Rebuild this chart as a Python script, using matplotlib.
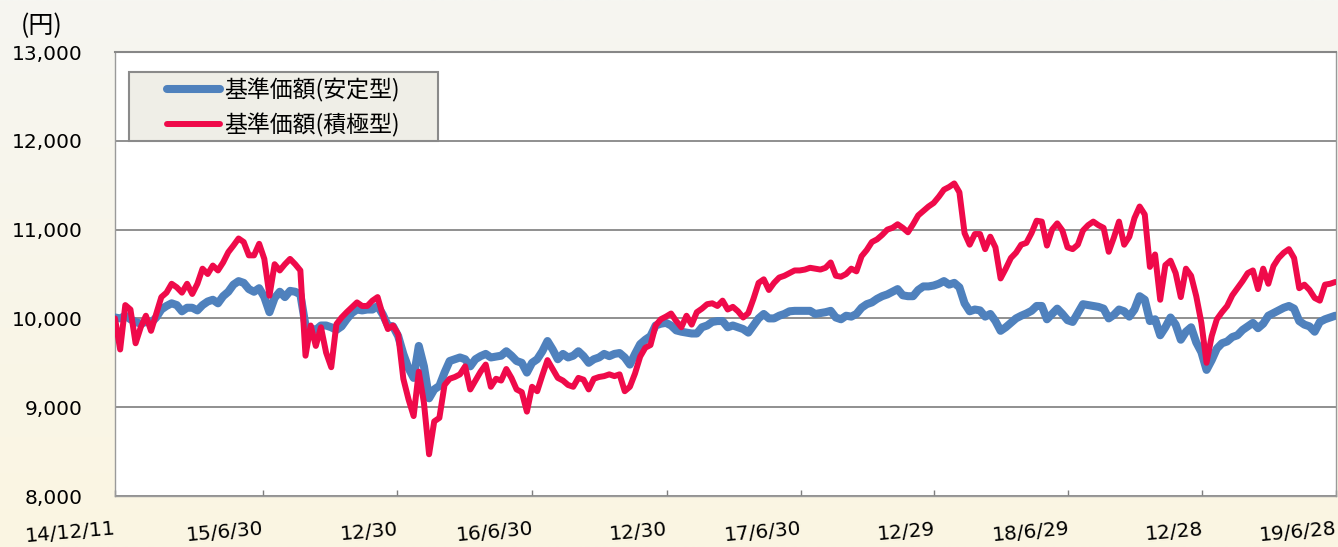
import numpy as np
import pandas as pd
import matplotlib
matplotlib.use('Agg')
import matplotlib.pyplot as plt
from matplotlib.patches import Rectangle

# --- data (one value per week) ---
dates = pd.date_range('2014-12-11', '2019-06-28', freq='7D')

stable = [
    10010, 10000, 10030, 9990, 9960, 9940, 9960, 9950, 10010, 10100,
    10140, 10170, 10150, 10080, 10120, 10120, 10090, 10150, 10190, 10210,
    10170, 10250, 10300, 10380, 10420, 10400, 10330, 10300, 10340, 10240,
    10070, 10230, 10300, 10240, 10310, 10300, 10270, 9920, 9890, 9870,
    9920, 9920, 9900, 9870, 9910, 9990, 10060, 10100, 10090, 10100,
    10100, 10140, 10045, 9920, 9910, 9800, 9600, 9440, 9330, 9690,
    9460, 9100, 9200, 9240, 9390, 9520, 9540, 9560, 9540, 9460,
    9540, 9575, 9600, 9560, 9570, 9580, 9630, 9580, 9520, 9500,
    9390, 9500, 9540, 9630, 9745, 9650, 9540, 9600, 9560, 9580,
    9630, 9575, 9500, 9540, 9560, 9600, 9575, 9600, 9610, 9560,
    9480, 9600, 9710, 9760, 9800, 9920, 9940, 9950, 9920, 9865,
    9850, 9840, 9830, 9830, 9900, 9920, 9960, 9970, 9970, 9900,
    9920, 9900, 9880, 9840, 9920, 10000, 10050, 10000, 10000, 10030,
    10050, 10080, 10085, 10085, 10085, 10085, 10050, 10060, 10070, 10085,
    10010, 9990, 10030, 10020, 10050, 10120, 10160, 10180, 10220, 10250,
    10270, 10300, 10330, 10260, 10250, 10250, 10320, 10360, 10360, 10370,
    10390, 10420, 10380, 10400, 10350, 10170, 10080, 10100, 10090, 10020,
    10050, 9970, 9860, 9900, 9950, 10000, 10030, 10055, 10085, 10140,
    10140, 9990, 10050, 10110, 10050, 9980, 9960, 10060, 10160, 10150,
    10140, 10130, 10110, 10000, 10040, 10100, 10080, 10020, 10100, 10250,
    10210, 9970, 9990, 9810, 9900, 10010, 9930, 9760, 9850, 9900,
    9730, 9620, 9420, 9530, 9660, 9720, 9740, 9790, 9810, 9870,
    9910, 9950, 9890, 9940, 10030, 10060, 10090, 10120, 10140, 10110,
    9970, 9930, 9910, 9850, 9960, 9990, 10010, 10030,
]

active = [
    10000, 9650, 10150, 10100, 9720, 9900, 10030, 9860, 10050, 10240,
    10290, 10390, 10350, 10290, 10390, 10275, 10390, 10560, 10500, 10595,
    10540, 10630, 10745, 10820, 10900, 10860, 10710, 10710, 10840, 10670,
    10255, 10610, 10540, 10610, 10670, 10610, 10540, 9580, 9920, 9690,
    9900, 9615, 9450, 9935, 10010, 10070, 10125, 10180, 10140, 10140,
    10200, 10240, 10040, 9880, 9920, 9820, 9320, 9090, 8900, 9400,
    9050, 8470, 8840, 8880, 9250, 9320, 9340, 9370, 9460, 9200,
    9300, 9400, 9480, 9230, 9320, 9300, 9430, 9330, 9200, 9170,
    8950, 9230, 9180, 9360, 9530, 9430, 9330, 9300, 9250, 9230,
    9330, 9310, 9200, 9320, 9340, 9350, 9370, 9350, 9370, 9180,
    9230, 9380, 9570, 9670, 9700, 9920, 9990, 10020, 10055, 9970,
    9900, 10030, 9930, 10070, 10110, 10160, 10170, 10140, 10200, 10100,
    10130, 10080, 10010, 10060, 10220, 10400, 10440, 10320, 10400, 10460,
    10480, 10510, 10540, 10540, 10550, 10570, 10560, 10550, 10570, 10630,
    10480, 10470, 10500, 10560, 10530, 10700, 10770, 10860, 10890, 10940,
    11000, 11020, 11060, 11020, 10970, 11060, 11160, 11210, 11260, 11300,
    11370, 11450, 11480, 11520, 11420, 10960, 10830, 10950, 10950, 10780,
    10920, 10800, 10450, 10560, 10680, 10740, 10830, 10850, 10960, 11100,
    11090, 10820, 11000, 11070, 10990, 10800, 10780, 10830, 10990, 11050,
    11090, 11050, 11020, 10750, 10910, 11090, 10830, 10920, 11130, 11260,
    11170, 10580, 10720, 10210, 10600, 10650, 10510, 10240, 10560, 10480,
    10250, 9950, 9500, 9800, 9990, 10070, 10140, 10260, 10340, 10420,
    10510, 10540, 10330, 10560, 10390, 10590, 10680, 10740, 10780, 10680,
    10340, 10380, 10320, 10230, 10200, 10380, 10390, 10410,
]

y_ticks = [8000, 9000, 10000, 11000, 12000, 13000]
x_tick_dates = ['2014-12-11', '2015-06-30', '2015-12-30', '2016-06-30', '2016-12-30',
                '2017-06-30', '2017-12-29', '2018-06-29', '2018-12-28', '2019-06-28']
x_tick_labels = ['14/12/11', '15/6/30', '12/30', '16/6/30', '12/30',
                 '17/6/30', '12/29', '18/6/29', '12/28', '19/6/28']
legend_labels = ['基準価額(安定型)', '基準価額(積極型)']

BLUE = '#4F81BD'
RED = '#EF0A4A'
GRID = '#878787'
JP = ['Noto Sans CJK JP', 'DejaVu Sans']

plt.rcParams['font.family'] = ['DejaVu Sans', 'Noto Sans CJK JP']

fig = plt.figure(figsize=(13.38, 5.47), dpi=100)

# soft page background, greyish at the top, cream at the bottom
bg = fig.add_axes([0, 0, 1, 1], zorder=-10)
bg.axis('off')
top_c = np.array([246, 246, 241]) / 255
bot_c = np.array([251, 245, 226]) / 255
t = np.linspace(0, 1, 200)[:, None]
grad = top_c + (bot_c - top_c) * t
bg.imshow(grad[:, None, :].repeat(2, axis=1), aspect='auto', extent=[0, 1, 0, 1])

ax = fig.add_axes([115 / 1338, 51 / 547, 1221 / 1338, 444 / 547])
ax.set_facecolor('white')

ax.plot(dates, stable, color=BLUE, lw=5.8, solid_joinstyle='round',
        solid_capstyle='round', label=legend_labels[0], zorder=3)
ax.plot(dates, active, color=RED, lw=4.3, solid_joinstyle='round',
        solid_capstyle='round', label=legend_labels[1], zorder=4)

ax.set_ylim(8000, 13000)
ax.set_yticks(y_ticks)
ax.set_yticklabels([f'{v:,}' for v in y_ticks])
ax.set_xlim(pd.Timestamp('2014-12-11'), pd.Timestamp('2019-06-28'))
ax.set_xticks(pd.to_datetime(x_tick_dates))
ax.set_xticklabels(x_tick_labels, rotation=5, ha='right', va='top',
                   rotation_mode='anchor')

ax.yaxis.grid(True, color=GRID, lw=1.3)
ax.set_axisbelow(True)
ax.tick_params(axis='y', length=0, pad=23, labelsize=14.5)
ax.tick_params(axis='x', direction='in', length=4, width=1, color='#7f7f7f',
               pad=17, labelsize=14.5)
for side in ['left', 'right', 'bottom']:
    ax.spines[side].set_color('#9a9a9a')
    ax.spines[side].set_linewidth(1)
ax.spines['top'].set_color(GRID)
ax.spines['top'].set_linewidth(1.5)

# legend box sitting on the 12,000 line
ax.add_patch(Rectangle((14 / 1221, 0.8), 309 / 1221, 69 / 444, transform=ax.transAxes,
                       facecolor='#EFEEE7', edgecolor='#8a8a8a', lw=1.5, zorder=5))
ax.legend(loc='upper left', bbox_to_anchor=(52 / 1221, 0.941), frameon=False,
          prop={'family': JP, 'size': 16.5}, handlelength=2.3, handletextpad=0.2,
          borderpad=0, borderaxespad=0, labelspacing=0.47).set_zorder(6)

fig.text(21 / 1338, 1 - 26 / 547, '(円)', family=JP, fontsize=18, ha='left', va='center')

fig.savefig('out.png', dpi=100)
